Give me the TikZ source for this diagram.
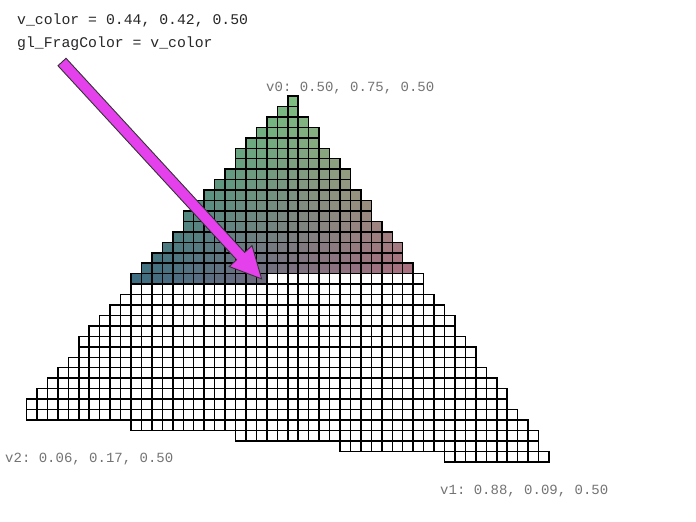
\documentclass[tikz,border=0pt]{standalone}
\usepackage{fontspec}
\setmonofont{Liberation Mono}
\usetikzlibrary{calc}
\definecolor{arrowpink}{RGB}{228,64,236}
\begin{document}
\begin{tikzpicture}[x=1pt,y=-1pt,
 px/.style={draw=black,line width=1.5pt},
 code/.style={font=\ttfamily\fontsize{14.8}{17}\selectfont,text=black!85,anchor=base west,inner sep=0pt},
 vlbl/.style={font=\ttfamily\fontsize{14}{16}\selectfont,text=black!55,anchor=base west,inner sep=0pt},
 pointer/.style={fill=arrowpink,draw=black!80,line width=.9pt,line join=miter}]
\useasboundingbox (0,0) rectangle (696,522);
\begin{scope}[shift={(26.5,96)},x=10.45pt,y=-10.45pt]
\foreach \rw/\ca/\cb in {0/25/25,1/24/25,2/23/26,3/22/27,4/21/27,5/20/28,6/20/29,7/19/30,8/18/30,
 9/17/31,10/16/32,11/15/32,12/15/33,13/14/34,14/13/35,15/12/35,16/11/36,17/10/37,18/10/37,
 19/9/38,20/8/39,21/7/40,22/6/40,23/5/41,24/5/42,25/4/42,26/3/43,27/2/44,28/1/45,29/0/45,
 30/0/46,31/10/47,32/20/48,33/30/48,34/40/49}{
 \foreach \cc in {\ca,...,\cb}{
  \pgfmathtruncatemacro{\shade}{or(\rw<17,and(\rw==17,\cc<23))}
  \ifnum\shade=1
   \pgfmathsetmacro{\lamA}{(4.3*(\cc+1)-51*(\rw-30.5))/1694.95}
   \pgfmathsetmacro{\lamB}{(31*(\cc+1)+26.5*(\rw-30.5))/1694.95}
   \pgfmathsetmacro{\colR}{min(1,max(0,0.06+0.44*\lamA+0.82*\lamB))}
   \pgfmathsetmacro{\colG}{min(1,max(0,0.17+0.58*\lamA-0.08*\lamB))}
   \definecolor{frag}{rgb}{\colR,\colG,0.5}
   \draw[px,fill=frag] (\cc,\rw) rectangle ++(1,1);
  \else
   \draw[px,fill=white] (\cc,\rw) rectangle ++(1,1);
  \fi}}
\coordinate (fragPix) at (22.5,17.5);
\end{scope}
\node[code] (vcolor) at (17,24) {v\_color = 0.44, 0.42, 0.50};
\node[code] (fragcolor) at (17,47) {gl\_FragColor = v\_color};
\node[vlbl] (v0lbl) at (266,91) {v0: 0.50, 0.75, 0.50};
\node[vlbl] (v2lbl) at (5,462) {v2: 0.06, 0.17, 0.50};
\node[vlbl] (v1lbl) at (440,494) {v1: 0.88, 0.09, 0.50};
\coordinate (arrTail) at (62,62);
\coordinate (headBase) at ($(fragPix)!31pt!(arrTail)$);
\filldraw[pointer] ($(arrTail)!5.5pt!90:(fragPix)$) -- ($(headBase)!5.5pt!-90:(arrTail)$) -- ($(headBase)!15.5pt!-90:(arrTail)$)
 -- (fragPix) -- ($(headBase)!15.5pt!90:(arrTail)$) -- ($(headBase)!5.5pt!90:(arrTail)$) -- ($(arrTail)!5.5pt!-90:(fragPix)$) -- cycle;
\end{tikzpicture}
\end{document}
